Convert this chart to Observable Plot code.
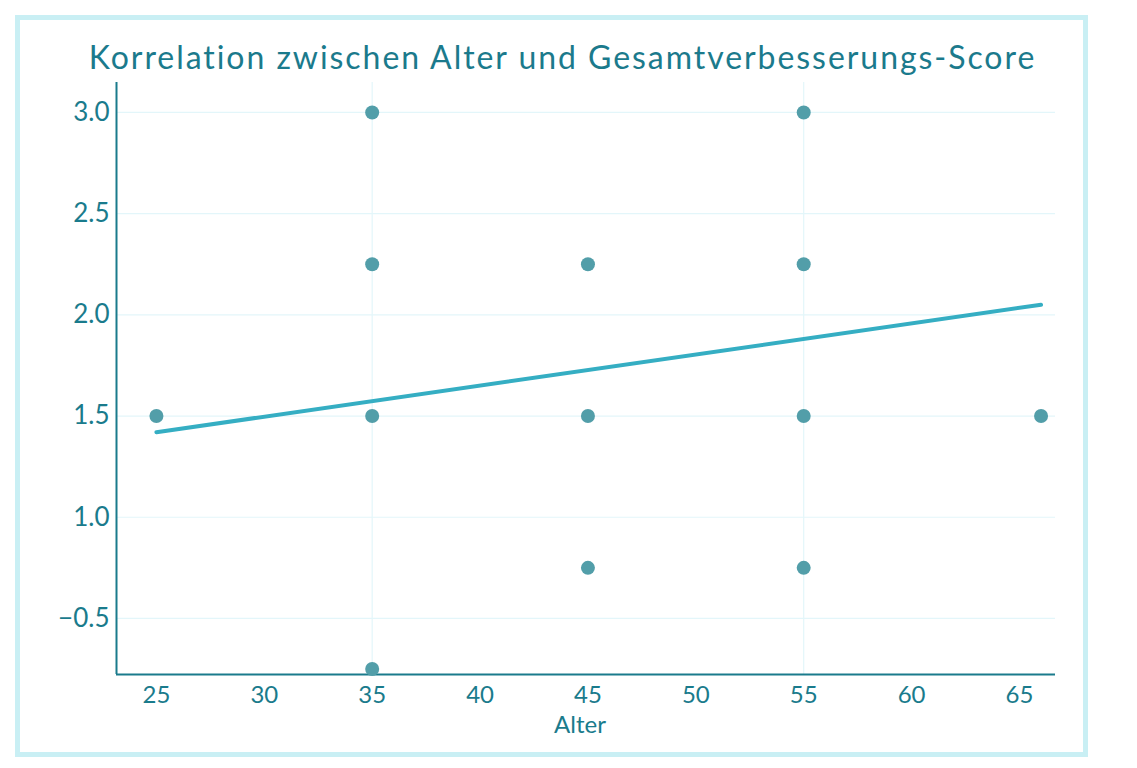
<!DOCTYPE html>
<html>
<head>
<meta charset="utf-8">
<script src="https://cdn.jsdelivr.net/npm/d3@7"></script>
<script src="https://cdn.jsdelivr.net/npm/@observablehq/plot@0.6"></script>
<style>
  html, body { margin: 0; padding: 0; background: #ffffff; }
  body { width: 1137px; height: 768px; position: relative; overflow: hidden; font-family: Lato, "Open Sans", sans-serif; }
  #frame { position: absolute; left: 15px; top: 15px; width: 1073px; height: 742px; box-sizing: border-box; border: 5px solid #c9eff4; }
  #title { position: absolute; left: 0; top: 37px; width: 1125px; text-align: center; font-size: 32px; letter-spacing: 1.95px; line-height: 40px; color: #1b7a8c; white-space: nowrap; }
  #chart { position: absolute; left: 0; top: 0; }
</style>
</head>
<body>
<div id="frame"></div>
<div id="title">Korrelation zwischen Alter und Gesamtverbesserungs-Score</div>
<div id="chart"></div>
<script>
// Data
const ages   = [25, 35, 35, 35, 35, 45, 45, 45, 55, 55, 55, 55, 66];
const scores = [1.5, 3.0, 2.25, 1.5, 0.25, 2.25, 1.5, 0.75, 3.0, 2.25, 1.5, 0.75, 1.5];
const trendAges   = [25, 66];
const trendScores = [1.42, 2.05];
const xTicks = [25, 30, 35, 40, 45, 50, 55, 60, 65];
const xGridTicks = [35, 55];
const yTicks = [0.5, 1.0, 1.5, 2.0, 2.5, 3.0];
const yTickLabels = ["−0.5", "1.0", "1.5", "2.0", "2.5", "3.0"];
const xTitle = "Alter";

const points = ages.map((a, i) => ({age: a, score: scores[i]}));
const trend = trendAges.map((a, i) => ({age: a, score: trendScores[i]}));
const yLabelMap = new Map(yTicks.map((t, i) => [t, yTickLabels[i]]));

const axisColor = "#1a7b8c";
const chart = Plot.plot({
  width: 1137,
  height: 768,
  marginLeft: 116,
  marginRight: 82,
  marginTop: 82,
  marginBottom: 94,
  style: { background: "transparent", fontFamily: "Lato, 'Open Sans', sans-serif", overflow: "visible" },
  x: { domain: [23.15, 66.67] },
  y: { domain: [0.223, 3.148] },
  marks: [
    Plot.gridY(yTicks, { stroke: "#e3f6fa", strokeOpacity: 1, strokeWidth: 1.2 }),
    Plot.gridX(xGridTicks, { stroke: "#e3f6fa", strokeOpacity: 1, strokeWidth: 1.2 }),
    Plot.axisX(xTicks, {
      tickSize: 0, tickPadding: 11, fontSize: 24, color: axisColor,
      label: null
    }),
    Plot.axisX({
      ticks: [], tickSize: 0, color: axisColor,
      label: xTitle, labelAnchor: "center", labelArrow: "none", labelOffset: 58
    }),
    Plot.axisY(yTicks, {
      tickSize: 0, tickPadding: 7, fontSize: 26, color: axisColor,
      tickFormat: d => yLabelMap.get(d), label: null
    }),
    Plot.ruleX([23.15], { stroke: axisColor, strokeWidth: 2 }),
    Plot.ruleY([0.223], { stroke: axisColor, strokeWidth: 2 }),
    Plot.dot(points, { x: "age", y: "score", r: 7, fill: "#529ea9", stroke: "none" }),
    Plot.line(trend, { x: "age", y: "score", stroke: "#35aec3", strokeWidth: 4 })
  ]
});
chart.querySelectorAll("[aria-label='x-axis label']").forEach(e => { e.setAttribute("font-size", 24); e.setAttribute("transform", (e.getAttribute("transform") || "") + " translate(-6,0)"); });
document.getElementById("chart").appendChild(chart);
</script>
</body>
</html>
